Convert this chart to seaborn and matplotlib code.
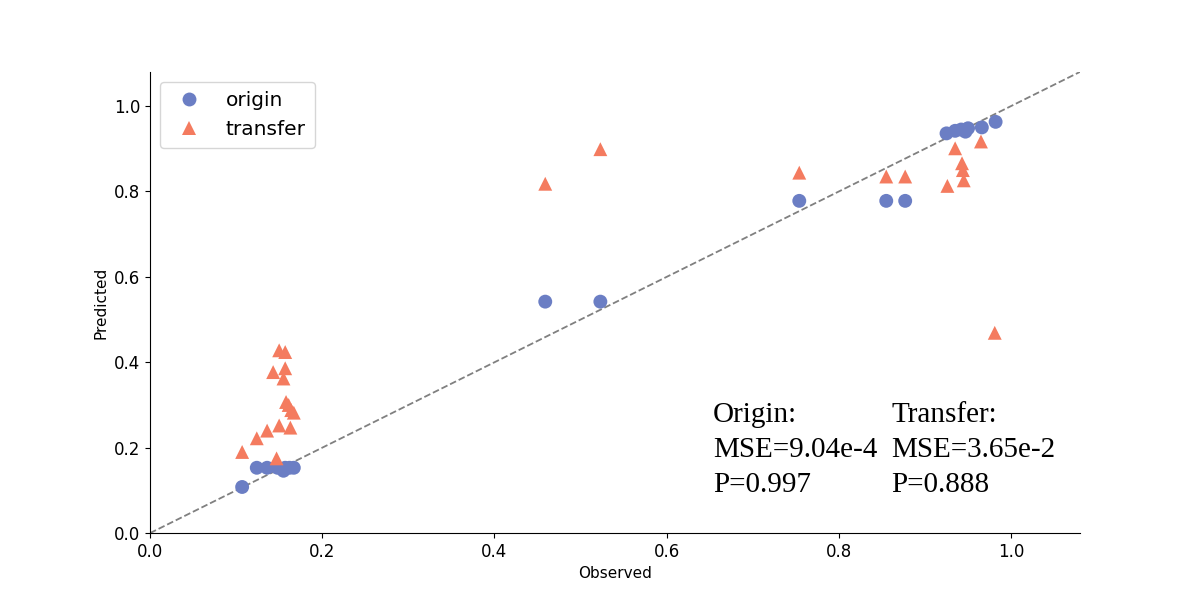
import pandas as pd
import matplotlib
matplotlib.use('Agg')
import matplotlib.pyplot as plt
import seaborn as sns

# observed / predicted values
origin_obs = [0.107, 0.124, 0.136, 0.148, 0.155, 0.157, 0.162, 0.167,
              0.459, 0.523, 0.754, 0.855, 0.877,
              0.925, 0.935, 0.942, 0.947, 0.950, 0.966, 0.982]
origin_pred = [0.108, 0.153, 0.153, 0.153, 0.146, 0.153, 0.153, 0.153,
               0.542, 0.542, 0.778, 0.778, 0.778,
               0.936, 0.942, 0.945, 0.940, 0.948, 0.950, 0.963]

transfer_obs = [0.107, 0.124, 0.136, 0.147, 0.150, 0.163, 0.143, 0.150, 0.157, 0.157,
                0.155, 0.158, 0.161, 0.164, 0.167,
                0.459, 0.523, 0.754, 0.855, 0.877,
                0.926, 0.935, 0.943, 0.944, 0.945, 0.965, 0.981]
transfer_pred = [0.190, 0.222, 0.240, 0.175, 0.252, 0.247, 0.377, 0.428, 0.424, 0.386,
                 0.362, 0.307, 0.300, 0.288, 0.282,
                 0.818, 0.899, 0.844, 0.835, 0.835,
                 0.813, 0.901, 0.866, 0.850, 0.826, 0.917, 0.469]

df = pd.DataFrame({
    'Observed': origin_obs + transfer_obs,
    'Predicted': origin_pred + transfer_pred,
    'model': ['origin'] * len(origin_obs) + ['transfer'] * len(transfer_obs),
})

sns.set_style('ticks')
plt.rcParams['font.family'] = ['DejaVu Sans']
plt.rcParams['axes.edgecolor'] = 'black'
plt.rcParams['text.color'] = 'black'
plt.rcParams['axes.labelcolor'] = 'black'
fig, ax = plt.subplots(figsize=(12, 5.99), dpi=100)

sns.scatterplot(data=df, x='Observed', y='Predicted', hue='model', style='model',
                markers={'origin': 'o', 'transfer': '^'},
                palette={'origin': '#6b7ec4', 'transfer': '#f47b5f'},
                s=100, linewidth=0, ax=ax)

lim = 1.08
ax.plot([0, lim], [0, lim], ls='--', color='grey', lw=1.3, zorder=0)
ax.set_xlim(0, lim)
ax.set_ylim(0, lim)
ax.tick_params(labelsize=12, colors='black')
ax.set_xlabel('Observed', fontsize=11)
ax.set_ylabel('Predicted', fontsize=11)
sns.despine(ax=ax)

ax.legend(loc='upper left', fontsize=14.5, borderpad=0.45)

ax.text(0.654, 0.097, 'Origin:\nMSE=9.04e-4\nP=0.997', family='Liberation Serif',
        fontsize=21, va='baseline', linespacing=1.45, color='black')
ax.text(0.861, 0.097, 'Transfer:\nMSE=3.65e-2\nP=0.888', family='Liberation Serif',
        fontsize=21, va='baseline', linespacing=1.45, color='black')

fig.savefig('out.png')
